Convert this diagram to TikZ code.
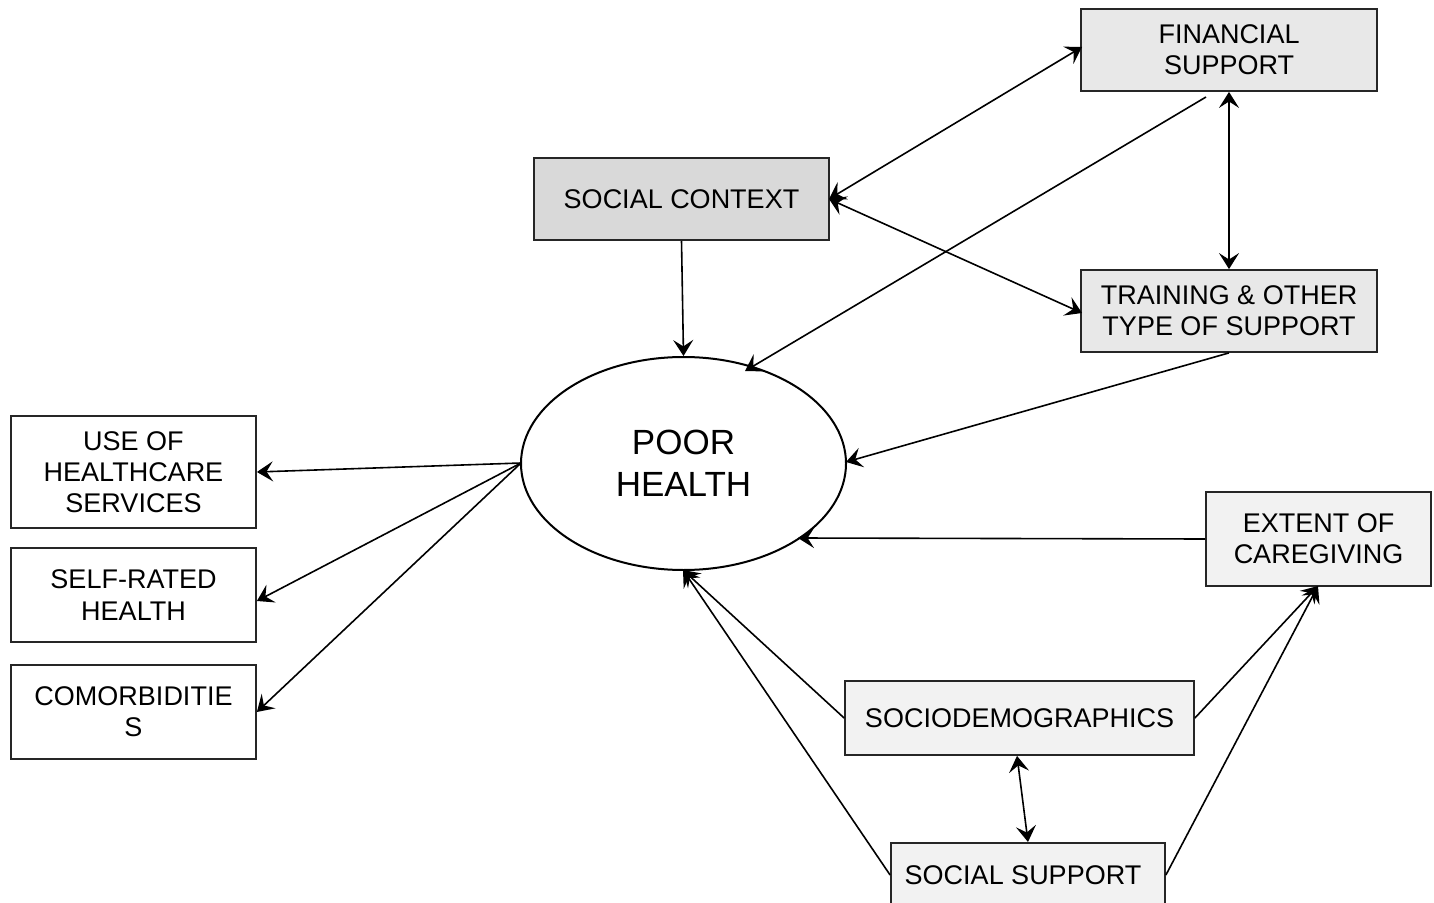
\documentclass[tikz,border=0pt]{standalone}
\usepackage{fontspec}
\setmainfont{Liberation Sans}
\usetikzlibrary{shapes.geometric,arrows.meta}
\definecolor{fillA}{HTML}{D9D9D9}
\definecolor{fillB}{HTML}{E8E8E8}
\definecolor{fillC}{HTML}{F2F2F2}
\tikzset{
  box/.style={draw=black!85, line width=0.9pt, rectangle, align=center, inner sep=0pt,
    font=\fontsize{13.5}{15.6}\selectfont},
  tip/.tip={Stealth[length=8pt,width=10pt,inset=3.2pt]},
  conn/.style={line width=0.8pt, -tip},
  biconn/.style={line width=0.8pt, tip-tip},
}
\begin{document}
\begin{tikzpicture}[x=0.5pt,y=-0.5pt]
\useasboundingbox (0,0) rectangle (1434,903);
\fill[white] (0,0) rectangle (1434,903);
% boxes
\node[box, fill=fillA, minimum width=147.5pt, minimum height=41pt] (ctx) at (681.5,199) {SOCIAL CONTEXT};
\node[box, fill=fillB, minimum width=148pt, minimum height=41pt] (fin) at (1229,50) {FINANCIAL\\SUPPORT};
\node[box, fill=fillB, minimum width=148pt, minimum height=41pt] (trn) at (1229,311) {TRAINING \& OTHER\\TYPE OF SUPPORT};
\node[box, fill=fillC, minimum width=112.5pt, minimum height=47pt] (ext) at (1318.5,539) {EXTENT OF\\CAREGIVING};
\node[box, fill=fillC, minimum width=174.5pt, minimum height=37pt] (soc) at (1019.5,718) {SOCIODEMOGRAPHICS};
\node[box, fill=fillC, minimum width=137pt, minimum height=34pt, anchor=north] (sup) at (1028,842) {};
\node[font=\fontsize{13.5}{15.6}\selectfont] (suptext) at (1023,875) {SOCIAL SUPPORT};
\node[box, fill=white, minimum width=122.5pt, minimum height=56pt] (use) at (133.5,472) {USE OF\\HEALTHCARE\\SERVICES};
\node[box, fill=white, minimum width=122.5pt, minimum height=47pt] (srh) at (133.5,595) {SELF-RATED\\HEALTH};
\node[box, fill=white, minimum width=122.5pt, minimum height=47pt] (com) at (133.5,712) {COMORBIDITIE\\S};
\node[ellipse, draw=black, line width=1pt, minimum width=162.5pt, minimum height=106.5pt, inner sep=0pt,
  font=\fontsize{17.5}{21}\selectfont, align=center] (ell) at (683.5,463.5) {POOR\\HEALTH};
% free coordinates
\coordinate (finout) at (1206,97);
\coordinate (eFin) at (745,371);
\coordinate (eTrn) at (846,462);
\coordinate (eExt) at (798,538);
\coordinate (eBot) at (683,570);
\coordinate (eLeft) at (521,463);
\coordinate (ctxR) at (829,199);
\coordinate (finL) at (1082,47);
\coordinate (trnL) at (1082,313);
\coordinate (extB) at (1318,586);
% connectors
\draw[conn] (ctx.south) -- (ell.north);
\draw[biconn] (ctxR) -- (finL);
\draw[biconn] (ctxR) -- (trnL);
\draw[biconn] (fin.south) -- (trn.north);
\draw[conn] (finout) -- (eFin);
\draw[conn] (trn.south) -- (eTrn);
\draw[conn] (ext.west) -- (eExt);
\draw[conn] (soc.west) -- (eBot);
\draw[conn] (sup.west |- suptext) -- (eBot);
\draw[conn] (soc.east) -- (extB);
\draw[conn] (sup.east |- suptext) -- (extB);
\draw[biconn] ([xshift=-1.25pt]soc.south) -- (sup.north);
\draw[conn] (eLeft) -- (use.east);
\draw[conn] (eLeft) -- ([yshift=-3pt]srh.east);
\draw[conn] (eLeft) -- (com.east);
\end{tikzpicture}
\end{document}
